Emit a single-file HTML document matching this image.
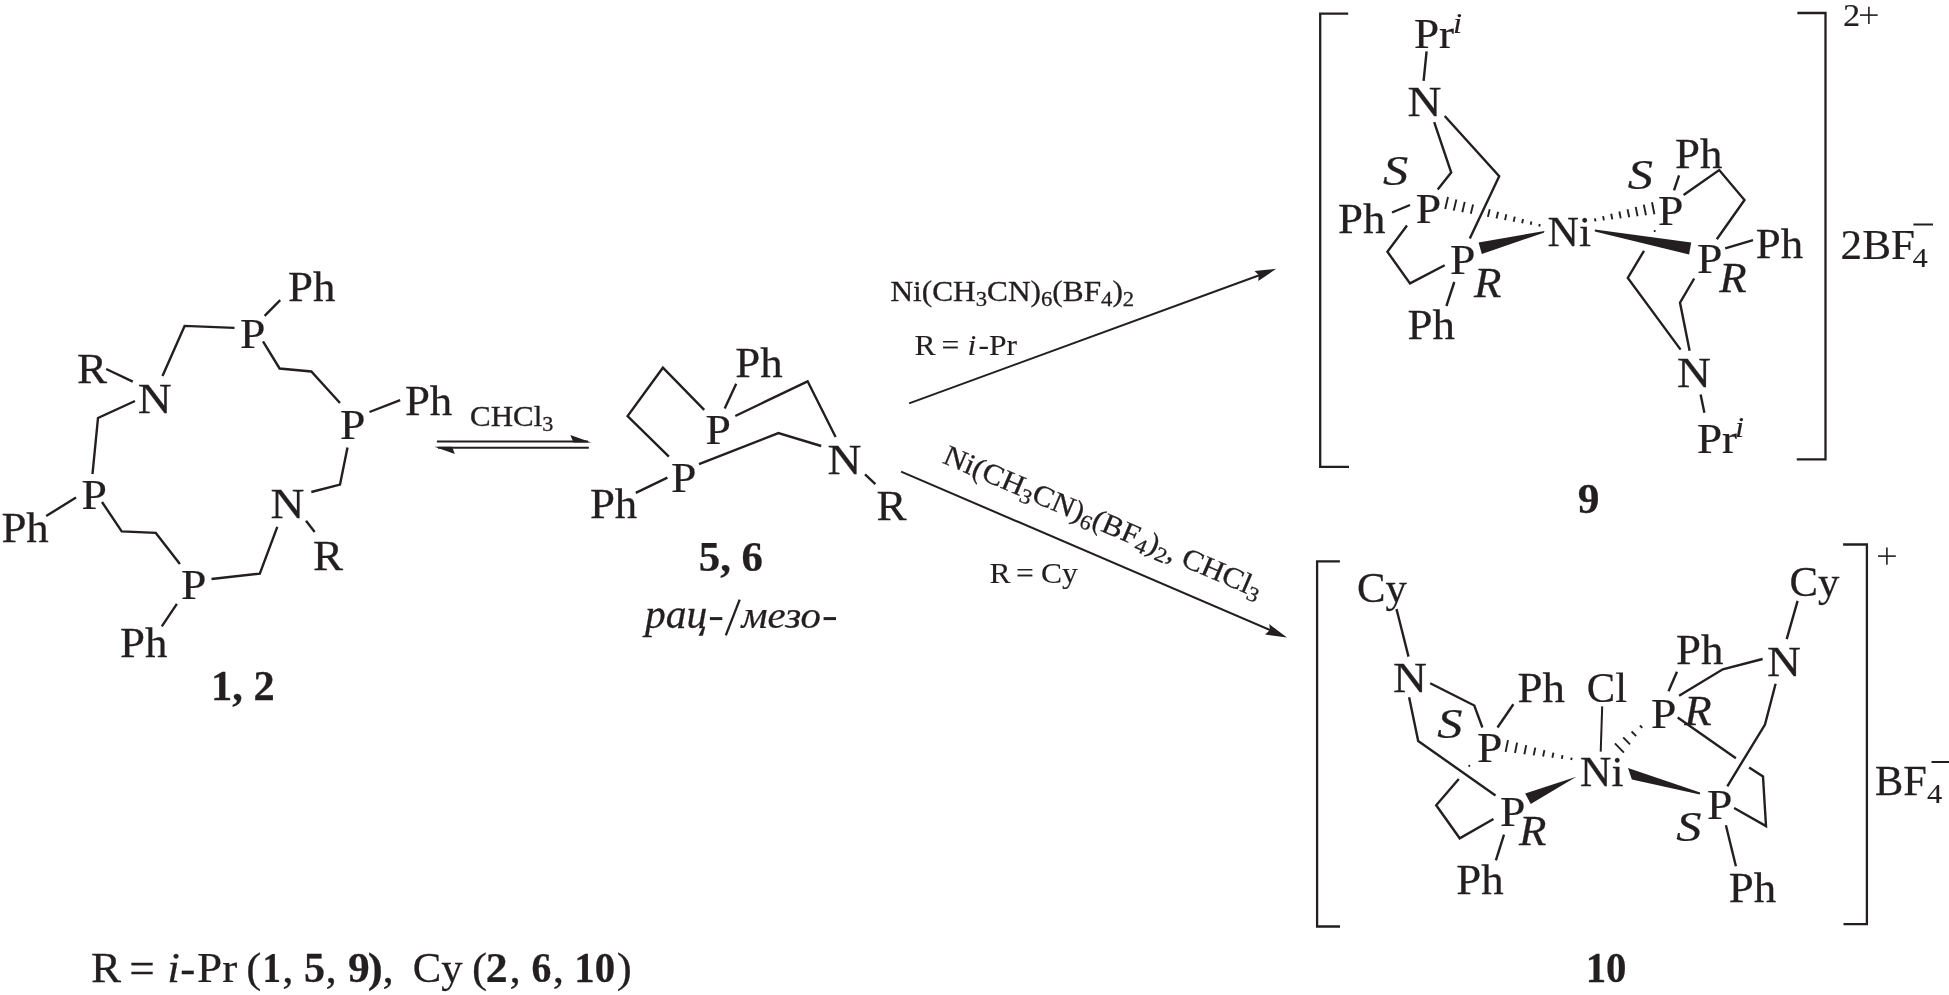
<!DOCTYPE html>
<html><head><meta charset="utf-8"><style>
html,body{margin:0;padding:0;background:#fff;width:1949px;height:995px;overflow:hidden}
svg{display:block;will-change:transform}
text{font-family:"Liberation Serif",serif;fill:#231f20;stroke:#231f20;stroke-width:0.25px}
</style></head><body>
<svg width="1949" height="995" viewBox="0 0 1949 995">
<text transform="translate(288.01,300.70) scale(1.0807,1)" font-size="41.5">Ph</text>
<text transform="translate(239.99,347.80) scale(1.0996,1)" font-size="41.5">P</text>
<text transform="translate(404.91,414.70) scale(1.0807,1)" font-size="41.5">Ph</text>
<text transform="translate(339.89,438.70) scale(1.0996,1)" font-size="41.5">P</text>
<text transform="translate(77.10,382.70) scale(1.0862,1)" font-size="41.5">R</text>
<text transform="translate(137.66,412.80) scale(1.1325,1)" font-size="41.5">N</text>
<text transform="translate(81.39,508.60) scale(1.0996,1)" font-size="41.5">P</text>
<text transform="translate(1.41,541.80) scale(1.0807,1)" font-size="41.5">Ph</text>
<text transform="translate(270.46,517.80) scale(1.1325,1)" font-size="41.5">N</text>
<text transform="translate(313.00,569.60) scale(1.0862,1)" font-size="41.5">R</text>
<text transform="translate(180.99,599.20) scale(1.0996,1)" font-size="41.5">P</text>
<text transform="translate(120.01,656.50) scale(1.0807,1)" font-size="41.5">Ph</text>
<text transform="translate(210.99,699.90) scale(1.0223,1)" font-size="41.5" font-weight="bold">1, 2</text>
<path d="M106.2,369.0 L132.8,381.6" fill="none" stroke="#231f20" stroke-width="2.40" stroke-linejoin="miter"/>
<path d="M162.5,376.0 L184.6,325.9 L234.5,327.9" fill="none" stroke="#231f20" stroke-width="2.40" stroke-linejoin="miter"/>
<path d="M264.6,315.8 L280.2,300.1" fill="none" stroke="#231f20" stroke-width="2.40" stroke-linejoin="miter"/>
<path d="M263.0,341.4 L279.6,368.5 L311.3,371.5 L340.0,403.0" fill="none" stroke="#231f20" stroke-width="2.40" stroke-linejoin="miter"/>
<path d="M369.5,412.0 L400.2,400.2" fill="none" stroke="#231f20" stroke-width="2.40" stroke-linejoin="miter"/>
<path d="M347.5,447.5 L340.0,484.6 L311.3,492.0" fill="none" stroke="#231f20" stroke-width="2.40" stroke-linejoin="miter"/>
<path d="M306.0,520.8 L314.7,532.0" fill="none" stroke="#231f20" stroke-width="2.40" stroke-linejoin="miter"/>
<path d="M277.3,526.9 L259.8,573.6 L211.5,579.0" fill="none" stroke="#231f20" stroke-width="2.40" stroke-linejoin="miter"/>
<path d="M176.9,603.8 L161.8,626.4" fill="none" stroke="#231f20" stroke-width="2.40" stroke-linejoin="miter"/>
<path d="M179.9,564.0 L155.8,532.9 L121.7,531.4 L102.0,502.0" fill="none" stroke="#231f20" stroke-width="2.40" stroke-linejoin="miter"/>
<path d="M76.0,497.6 L46.2,516.0" fill="none" stroke="#231f20" stroke-width="2.40" stroke-linejoin="miter"/>
<path d="M92.5,474.0 L98.0,418.0 L135.0,401.0" fill="none" stroke="#231f20" stroke-width="2.40" stroke-linejoin="miter"/>
<text x="470" y="426" font-size="29.5" transform="translate(470,0) scale(1.05,1) translate(-470,0)" style="stroke-width:0.3px">CHCl<tspan font-size="21" dy="5">3</tspan></text>
<path d="M436.9,441.5 L588.0,441.5" fill="none" stroke="#231f20" stroke-width="1.90" stroke-linejoin="miter"/>
<polygon points="591.4,442.4 570.3,435.0 573.5,442.4" fill="#231f20"/>
<path d="M438.0,447.7 L588.8,447.7" fill="none" stroke="#231f20" stroke-width="1.90" stroke-linejoin="miter"/>
<polygon points="434.4,446.8 454.9,454.0 452.0,446.8" fill="#231f20"/>
<text transform="translate(735.21,376.60) scale(1.0807,1)" font-size="41.5">Ph</text>
<text transform="translate(705.59,443.80) scale(1.0996,1)" font-size="41.5">P</text>
<text transform="translate(671.09,491.80) scale(1.0996,1)" font-size="41.5">P</text>
<text transform="translate(589.91,517.90) scale(1.0807,1)" font-size="41.5">Ph</text>
<text transform="translate(827.46,474.00) scale(1.1325,1)" font-size="41.5">N</text>
<text transform="translate(876.60,520.00) scale(1.0862,1)" font-size="41.5">R</text>
<text transform="translate(698.81,570.50) scale(1.0311,1)" font-size="41.5" font-weight="bold">5, 6</text>
<text transform="translate(644.94,627.70) scale(1.0664,1)" font-size="39" font-style="italic">рац</text>
<text transform="translate(741.56,627.70) scale(1.0465,1)" font-size="39" font-style="italic">мезо</text>
<path d="M709.9,618.6 L722.3,618.6" fill="none" stroke="#231f20" stroke-width="3.00" stroke-linejoin="miter"/>
<path d="M823.6,618.6 L836.0,618.6" fill="none" stroke="#231f20" stroke-width="3.00" stroke-linejoin="miter"/>
<path d="M725.8,635.3 L739.7,599.7" fill="none" stroke="#231f20" stroke-width="2.30" stroke-linejoin="miter"/>
<path d="M724.7,408.4 L736.2,383.7" fill="none" stroke="#231f20" stroke-width="2.40" stroke-linejoin="miter"/>
<path d="M704.2,409.9 L662.9,367.7 L627.6,416.0 L668.9,456.6" fill="none" stroke="#231f20" stroke-width="2.40" stroke-linejoin="miter"/>
<path d="M699.0,464.2 L778.4,433.1 L821.2,446.0" fill="none" stroke="#231f20" stroke-width="2.40" stroke-linejoin="miter"/>
<path d="M735.3,416.0 L807.6,381.3 L835.6,437.0" fill="none" stroke="#231f20" stroke-width="2.40" stroke-linejoin="miter"/>
<path d="M865.0,474.3 L875.4,484.2" fill="none" stroke="#231f20" stroke-width="2.40" stroke-linejoin="miter"/>
<path d="M667.4,477.7 L635.8,492.8" fill="none" stroke="#231f20" stroke-width="2.40" stroke-linejoin="miter"/>
<path d="M909.1,403.4 L1262.0,274.2" fill="none" stroke="#231f20" stroke-width="2.05" stroke-linejoin="miter"/>
<polygon points="1276.2,268.8 1254.5,271.1 1258.7,274.9 1258.3,281.1" fill="#231f20"/>
<text transform="translate(890.5,301.3) scale(1.08,1)" font-size="29" style="stroke-width:0.3px">Ni(CH<tspan font-size="21" dy="5">3</tspan><tspan dy="-5">CN)</tspan><tspan font-size="21" dy="5">6</tspan><tspan dy="-5">(BF</tspan><tspan font-size="21" dy="5">4</tspan><tspan dy="-5">)</tspan><tspan font-size="21" dy="5">2</tspan></text>
<text transform="translate(914.60,355.20) scale(1.09,1)" font-size="29" style="stroke-width:0.12px">R</text>
<text transform="translate(941.50,355.20) scale(1.09,1)" font-size="29" style="stroke-width:0.12px">=</text>
<text transform="translate(967.40,355.20) scale(1.09,1)" font-size="29" font-style="italic" style="stroke-width:0.12px">i</text>
<text transform="translate(978.50,355.20) scale(1.09,1)" font-size="29" style="stroke-width:0.12px">-</text>
<text transform="translate(989.00,355.20) scale(1.09,1)" font-size="29" style="stroke-width:0.12px">Pr</text>
<path d="M901.1,471.6 L1273.0,631.4" fill="none" stroke="#231f20" stroke-width="2.05" stroke-linejoin="miter"/>
<polygon points="1287.0,637.5 1269.3,624.1 1269.9,630.1 1265.1,634.5" fill="#231f20"/>
<text transform="translate(941.6,462.6) rotate(23.25) scale(1.08,1)" font-size="29" style="stroke-width:0.3px">Ni(CH<tspan font-size="21" dy="5">3</tspan><tspan dy="-5">CN)</tspan><tspan font-size="21" dy="5">6</tspan><tspan dy="-5">(BF</tspan><tspan font-size="21" dy="5">4</tspan><tspan dy="-5">)</tspan><tspan font-size="21" dy="5">2</tspan><tspan dy="-5">, CHCl</tspan><tspan font-size="21" dy="5">3</tspan></text>
<text transform="translate(989.60,582.60) scale(1.09,1)" font-size="29" style="stroke-width:0.12px">R</text>
<text transform="translate(1016.00,582.60) scale(1.09,1)" font-size="29" style="stroke-width:0.12px">=</text>
<text transform="translate(1041.00,582.60) scale(1.09,1)" font-size="29" style="stroke-width:0.12px">Cy</text>
<path d="M1348.2,13.6 L1320.2,13.6 L1320.2,466.9 L1349.0,466.9" fill="none" stroke="#231f20" stroke-width="2.30" stroke-linejoin="miter"/>
<path d="M1797.4,13.0 L1825.5,13.0 L1825.5,459.3 L1796.8,459.3" fill="none" stroke="#231f20" stroke-width="2.30" stroke-linejoin="miter"/>
<text transform="translate(1842.90,25.90) scale(1.09,1)" font-size="31.5" style="stroke-width:0.13px">2</text>
<path d="M1860.0,15.1 L1877.7,15.1" fill="none" stroke="#231f20" stroke-width="1.60" stroke-linejoin="miter"/>
<path d="M1868.9,6.7 L1868.9,23.9" fill="none" stroke="#231f20" stroke-width="1.60" stroke-linejoin="miter"/>
<text transform="translate(1840.59,258.60) scale(1.039,1)" font-size="41.5">2BF</text>
<text transform="translate(1912.40,266.70) scale(1.09,1)" font-size="28" style="stroke-width:0.12px">4</text>
<path d="M1913.4,224.5 L1933.0,224.5" fill="none" stroke="#231f20" stroke-width="2.00" stroke-linejoin="miter"/>
<text transform="translate(1414.00,47.70) scale(1.0872,1)" font-size="41.5">Pr</text>
<text transform="translate(1453.00,33.00) scale(1.09,1)" font-size="30" font-style="italic" style="stroke-width:0.13px">i</text>
<text transform="translate(1407.56,116.00) scale(1.1325,1)" font-size="41.5">N</text>
<text transform="translate(1382.90,185.20) scale(1.2153,1)" font-size="41.5" font-style="italic">S</text>
<text transform="translate(1415.79,222.80) scale(1.0996,1)" font-size="41.5">P</text>
<text transform="translate(1338.01,232.70) scale(1.0807,1)" font-size="41.5">Ph</text>
<text transform="translate(1449.89,273.70) scale(1.0996,1)" font-size="41.5">P</text>
<text transform="translate(1474.10,296.90) scale(1.0819,1)" font-size="41.5" font-style="italic">R</text>
<text transform="translate(1407.51,339.10) scale(1.0807,1)" font-size="41.5">Ph</text>
<text transform="translate(1547.54,246.10) scale(1.0476,1)" font-size="41.5">Ni</text>
<text transform="translate(1675.01,167.80) scale(1.0807,1)" font-size="41.5">Ph</text>
<text transform="translate(1627.80,189.00) scale(1.2153,1)" font-size="41.5" font-style="italic">S</text>
<text transform="translate(1657.99,225.40) scale(1.0996,1)" font-size="41.5">P</text>
<text transform="translate(1697.09,272.60) scale(1.0996,1)" font-size="41.5">P</text>
<text transform="translate(1755.81,257.80) scale(1.0807,1)" font-size="41.5">Ph</text>
<text transform="translate(1719.20,291.80) scale(1.0819,1)" font-size="41.5" font-style="italic">R</text>
<text transform="translate(1676.96,387.00) scale(1.1325,1)" font-size="41.5">N</text>
<text transform="translate(1697.00,452.70) scale(1.0872,1)" font-size="41.5">Pr</text>
<text transform="translate(1735.00,437.00) scale(1.09,1)" font-size="30" font-style="italic" style="stroke-width:0.13px">i</text>
<text transform="translate(1577.84,512.50) scale(1.0458,1)" font-size="41.5" font-weight="bold">9</text>
<path d="M1426.6,51.3 L1423.6,80.8" fill="none" stroke="#231f20" stroke-width="2.40" stroke-linejoin="miter"/>
<path d="M1434.2,122.1 L1451.2,172.6 L1437.7,189.6" fill="none" stroke="#231f20" stroke-width="2.40" stroke-linejoin="miter"/>
<path d="M1444.7,116.0 L1499.2,176.3 L1469.8,238.4" fill="none" stroke="#231f20" stroke-width="2.40" stroke-linejoin="miter"/>
<path d="M1410.0,205.0 L1392.0,212.5" fill="none" stroke="#231f20" stroke-width="2.40" stroke-linejoin="miter"/>
<path d="M1407.0,225.5 L1387.4,251.7 L1410.0,283.4 L1444.7,265.3" fill="none" stroke="#231f20" stroke-width="2.40" stroke-linejoin="miter"/>
<path d="M1454.3,282.0 L1446.4,306.0" fill="none" stroke="#231f20" stroke-width="2.40" stroke-linejoin="miter"/>
<path d="M1448.0,197.0 L1445.2,209.0" stroke="#231f20" stroke-width="1.90"/>
<path d="M1456.4,199.5 L1453.7,210.6" stroke="#231f20" stroke-width="1.90"/>
<path d="M1464.7,201.9 L1462.3,212.2" stroke="#231f20" stroke-width="1.90"/>
<path d="M1473.1,204.4 L1470.8,213.7" stroke="#231f20" stroke-width="1.90"/>
<path d="M1489.7,209.3 L1487.9,216.9" stroke="#231f20" stroke-width="1.90"/>
<path d="M1498.1,211.7 L1496.5,218.5" stroke="#231f20" stroke-width="1.90"/>
<path d="M1506.4,214.2 L1505.0,220.1" stroke="#231f20" stroke-width="1.90"/>
<path d="M1514.8,216.6 L1513.6,221.7" stroke="#231f20" stroke-width="1.90"/>
<path d="M1523.1,219.1 L1522.1,223.2" stroke="#231f20" stroke-width="1.90"/>
<path d="M1531.4,221.5 L1530.7,224.8" stroke="#231f20" stroke-width="1.90"/>
<path d="M1539.8,224.0 L1539.2,226.4" stroke="#231f20" stroke-width="1.90"/>
<polygon points="1544.5,231.1 1478.6,242.4 1481.8,254.0 1543.8,232.7" fill="#231f20"/>
<path d="M1654.4,214.3 L1652.0,202.3" stroke="#231f20" stroke-width="1.90"/>
<path d="M1646.0,215.3 L1643.8,204.6" stroke="#231f20" stroke-width="1.90"/>
<path d="M1637.6,216.3 L1635.7,206.9" stroke="#231f20" stroke-width="1.90"/>
<path d="M1629.2,217.3 L1627.5,209.2" stroke="#231f20" stroke-width="1.90"/>
<path d="M1620.7,218.4 L1619.4,211.5" stroke="#231f20" stroke-width="1.90"/>
<path d="M1612.3,219.4 L1611.2,213.8" stroke="#231f20" stroke-width="1.90"/>
<path d="M1603.9,220.4 L1603.1,216.1" stroke="#231f20" stroke-width="1.90"/>
<path d="M1595.5,221.4 L1594.9,218.4" stroke="#231f20" stroke-width="1.90"/>
<polygon points="1594.8,229.4 1691.2,242.4 1689.1,254.4 1594.8,231.4" fill="#231f20"/>
<path d="M1679.1,175.4 L1674.0,190.4" fill="none" stroke="#231f20" stroke-width="2.40" stroke-linejoin="miter"/>
<path d="M1683.6,195.0 L1719.2,170.0 L1744.5,200.0 L1716.8,239.3" fill="none" stroke="#231f20" stroke-width="2.40" stroke-linejoin="miter"/>
<path d="M1725.2,248.3 L1753.0,240.2" fill="none" stroke="#231f20" stroke-width="2.40" stroke-linejoin="miter"/>
<path d="M1694.2,278.5 L1680.0,302.6 L1689.6,350.8" fill="none" stroke="#231f20" stroke-width="2.40" stroke-linejoin="miter"/>
<path d="M1644.0,250.8 L1627.8,278.0 L1680.6,349.6" fill="none" stroke="#231f20" stroke-width="2.40" stroke-linejoin="miter"/>
<circle cx="1654.7" cy="231.1" r="1.1" fill="#231f20"/>
<path d="M1700.6,394.6 L1704.4,412.8" fill="none" stroke="#231f20" stroke-width="2.40" stroke-linejoin="miter"/>
<path d="M1339.9,561.4 L1317.1,561.4 L1317.1,926.5 L1340.0,926.5" fill="none" stroke="#231f20" stroke-width="2.30" stroke-linejoin="miter"/>
<path d="M1843.1,544.5 L1866.9,544.5 L1866.9,924.1 L1843.5,924.1" fill="none" stroke="#231f20" stroke-width="2.30" stroke-linejoin="miter"/>
<path d="M1878.0,556.1 L1895.8,556.1" fill="none" stroke="#231f20" stroke-width="1.60" stroke-linejoin="miter"/>
<path d="M1886.9,547.6 L1886.9,564.7" fill="none" stroke="#231f20" stroke-width="1.60" stroke-linejoin="miter"/>
<text transform="translate(1875.06,794.50) scale(1.0218,1)" font-size="41.5">BF</text>
<text transform="translate(1927.00,802.60) scale(1.09,1)" font-size="28" style="stroke-width:0.12px">4</text>
<path d="M1931.5,762.0 L1949.0,762.0" fill="none" stroke="#231f20" stroke-width="2.00" stroke-linejoin="miter"/>
<text transform="translate(1356.91,602.40) scale(1.0299,1)" font-size="41.5">Cy</text>
<text transform="translate(1392.96,692.00) scale(1.1325,1)" font-size="41.5">N</text>
<text transform="translate(1437.20,738.00) scale(1.2153,1)" font-size="41.5" font-style="italic">S</text>
<text transform="translate(1476.89,762.00) scale(1.0996,1)" font-size="41.5">P</text>
<text transform="translate(1517.61,701.80) scale(1.0807,1)" font-size="41.5">Ph</text>
<text transform="translate(1586.72,701.80) scale(1.0269,1)" font-size="41.5">Cl</text>
<text transform="translate(1580.04,786.00) scale(1.0476,1)" font-size="41.5">Ni</text>
<text transform="translate(1499.99,825.70) scale(1.0996,1)" font-size="41.5">P</text>
<text transform="translate(1519.00,845.30) scale(1.0819,1)" font-size="41.5" font-style="italic">R</text>
<text transform="translate(1456.31,893.50) scale(1.0807,1)" font-size="41.5">Ph</text>
<text transform="translate(1789.61,596.00) scale(1.0299,1)" font-size="41.5">Cy</text>
<text transform="translate(1766.96,676.20) scale(1.1325,1)" font-size="41.5">N</text>
<text transform="translate(1676.01,664.20) scale(1.0807,1)" font-size="41.5">Ph</text>
<text transform="translate(1650.99,727.50) scale(1.0996,1)" font-size="41.5">P</text>
<text transform="translate(1684.20,724.70) scale(1.0819,1)" font-size="41.5" font-style="italic">R</text>
<text transform="translate(1706.99,819.30) scale(1.0996,1)" font-size="41.5">P</text>
<text transform="translate(1676.20,841.20) scale(1.2153,1)" font-size="41.5" font-style="italic">S</text>
<text transform="translate(1728.81,901.50) scale(1.0807,1)" font-size="41.5">Ph</text>
<text transform="translate(1585.69,982.40) scale(0.983,1)" font-size="41.5" font-weight="bold">10</text>
<path d="M1396.5,609.0 L1408.5,656.6" fill="none" stroke="#231f20" stroke-width="2.40" stroke-linejoin="miter"/>
<path d="M1430.2,683.2 L1474.3,705.5 L1482.4,727.5" fill="none" stroke="#231f20" stroke-width="2.40" stroke-linejoin="miter"/>
<path d="M1409.1,697.3 L1418.2,741.0 L1495.5,795.5" fill="none" stroke="#231f20" stroke-width="2.40" stroke-linejoin="miter"/>
<circle cx="1469.3" cy="765.8" r="1.1" fill="#231f20"/>
<path d="M1458.8,779.0 L1436.2,805.2 L1459.7,838.3 L1493.5,819.0" fill="none" stroke="#231f20" stroke-width="2.40" stroke-linejoin="miter"/>
<path d="M1497.5,727.5 L1513.4,704.3" fill="none" stroke="#231f20" stroke-width="2.40" stroke-linejoin="miter"/>
<path d="M1508.0,740.1 L1505.6,751.9" stroke="#231f20" stroke-width="1.90"/>
<path d="M1517.1,742.6 L1515.0,753.0" stroke="#231f20" stroke-width="1.90"/>
<path d="M1526.2,745.1 L1524.4,754.2" stroke="#231f20" stroke-width="1.90"/>
<path d="M1535.3,747.6 L1533.7,755.4" stroke="#231f20" stroke-width="1.90"/>
<path d="M1544.4,750.1 L1543.1,756.5" stroke="#231f20" stroke-width="1.90"/>
<path d="M1553.4,752.6 L1552.4,757.7" stroke="#231f20" stroke-width="1.90"/>
<path d="M1562.5,755.1 L1561.8,758.9" stroke="#231f20" stroke-width="1.90"/>
<path d="M1571.6,757.6 L1571.2,760.0" stroke="#231f20" stroke-width="1.90"/>
<polygon points="1576.4,776.8 1525.2,793.4 1530.7,803.9" fill="#231f20"/>
<path d="M1504.0,834.7 L1495.9,860.3" fill="none" stroke="#231f20" stroke-width="2.40" stroke-linejoin="miter"/>
<path d="M1602.2,706.4 L1600.7,751.6" fill="none" stroke="#231f20" stroke-width="2.00" stroke-linejoin="miter"/>
<path d="M1614.9,743.4 L1623.9,752.6" stroke="#231f20" stroke-width="1.90"/>
<path d="M1623.2,737.4 L1630.0,744.4" stroke="#231f20" stroke-width="1.90"/>
<path d="M1631.6,731.5 L1636.2,736.1" stroke="#231f20" stroke-width="1.90"/>
<path d="M1639.9,725.5 L1642.3,727.9" stroke="#231f20" stroke-width="1.90"/>
<polygon points="1700.2,792.6 1628.0,767.9 1631.9,779.5 1699.8,794.6" fill="#231f20"/>
<path d="M1797.6,600.8 L1786.7,639.1" fill="none" stroke="#231f20" stroke-width="2.40" stroke-linejoin="miter"/>
<path d="M1762.6,659.0 L1722.8,669.3 L1679.1,695.8" fill="none" stroke="#231f20" stroke-width="2.40" stroke-linejoin="miter"/>
<path d="M1775.6,683.8 L1765.0,724.5 L1727.3,786.3" fill="none" stroke="#231f20" stroke-width="2.40" stroke-linejoin="miter"/>
<path d="M1677.0,671.7 L1668.5,691.3" fill="none" stroke="#231f20" stroke-width="2.40" stroke-linejoin="miter"/>
<path d="M1677.7,717.6 L1735.9,758.3" fill="none" stroke="#231f20" stroke-width="2.40" stroke-linejoin="miter"/>
<path d="M1749.1,767.4 L1763.0,776.4 L1766.0,826.1 L1734.1,808.0" fill="none" stroke="#231f20" stroke-width="2.40" stroke-linejoin="miter"/>
<path d="M1725.9,825.2 L1735.9,866.2" fill="none" stroke="#231f20" stroke-width="2.40" stroke-linejoin="miter"/>
<text transform="translate(90.90,981.90) scale(1.0862,1)" font-size="41.5">R</text>
<text transform="translate(129.20,981.90) scale(1.09,1)" font-size="41.5">=</text>
<text transform="translate(167.30,981.90) scale(1.09,1)" font-size="41.5" font-style="italic">i</text>
<text transform="translate(180.20,981.90) scale(1.09,1)" font-size="41.5">-</text>
<text transform="translate(197.10,981.90) scale(1.0872,1)" font-size="41.5">Pr</text>
<text transform="translate(246.20,981.90) scale(1.09,1)" font-size="41.5">(</text>
<text transform="translate(262.56,981.90) scale(0.8874,1)" font-size="41.5" font-weight="bold">1</text>
<text transform="translate(282.30,981.90) scale(1.09,1)" font-size="41.5">,</text>
<text transform="translate(304.04,981.90) scale(1.0144,1)" font-size="41.5" font-weight="bold">5</text>
<text transform="translate(325.40,981.90) scale(1.09,1)" font-size="41.5">,</text>
<text transform="translate(348.04,981.90) scale(1.0458,1)" font-size="41.5" font-weight="bold">9</text>
<text transform="translate(367.80,981.90) scale(1.09,1)" font-size="41.5" font-weight="bold">)</text>
<text transform="translate(382.60,981.90) scale(1.09,1)" font-size="41.5">,</text>
<text transform="translate(412.71,981.90) scale(1.0299,1)" font-size="41.5">Cy</text>
<text transform="translate(471.90,981.90) scale(1.09,1)" font-size="41.5">(</text>
<text transform="translate(485.86,981.90) scale(1.0551,1)" font-size="41.5" font-weight="bold">2</text>
<text transform="translate(509.60,981.90) scale(1.09,1)" font-size="41.5">,</text>
<text transform="translate(531.52,981.90) scale(0.9587,1)" font-size="41.5" font-weight="bold">6</text>
<text transform="translate(552.70,981.90) scale(1.09,1)" font-size="41.5">,</text>
<text transform="translate(574.29,981.90) scale(0.983,1)" font-size="41.5" font-weight="bold">10</text>
<text transform="translate(616.80,981.90) scale(1.09,1)" font-size="41.5">)</text>
</svg></body></html>
